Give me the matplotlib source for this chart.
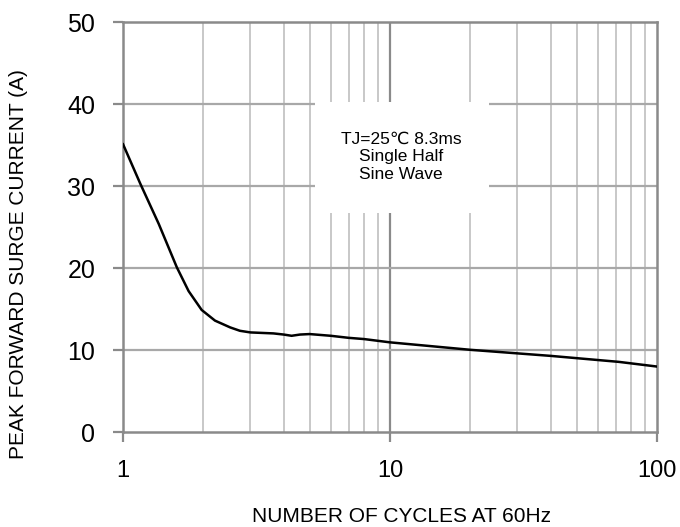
import numpy as np
import matplotlib
matplotlib.use("Agg")
import matplotlib.pyplot as plt
from matplotlib.patches import Rectangle

plt.rcParams['font.family'] = ['Liberation Sans', 'DejaVu Sans']

# curve
cycles = [1.0, 1.16, 1.36, 1.59, 1.76, 1.97, 2.21, 2.52, 2.74, 3.0, 3.66, 4.0,
          4.28, 4.6, 5.0, 6.0, 7.0, 8.0, 10.0, 14.1, 20.0, 40.0, 72.0, 100.0]
current = [35.1, 30.3, 25.4, 20.1, 17.2, 14.9, 13.6, 12.77, 12.36, 12.16, 12.04, 11.9,
           11.75, 11.9, 11.96, 11.75, 11.5, 11.35, 10.95, 10.5, 10.04, 9.3, 8.57, 8.0]

y_ticks = [0, 10, 20, 30, 40, 50]
x_ticks = [1, 10, 100]
x_labels = ['1', '10', '100']
note = "TJ=25\u2103 8.3ms\nSingle Half\nSine Wave"

fig = plt.figure(figsize=(6.8, 5.27), dpi=100)
ax = fig.add_axes([0.181, 0.180, 0.785, 0.778])

ax.set_xscale('log')
ax.set_xlim(1, 100)
ax.set_ylim(0, 50)

# grid
minor = [m * d for d in (1, 10) for m in range(2, 10)]
for xv in minor:
    ax.axvline(xv, color='#c4c4c4', lw=1.3, zorder=1)
ax.axvline(10, color='#8a8a8a', lw=1.6, zorder=1)
for yv in y_ticks[1:-1]:
    ax.axhline(yv, color='#a8a8a8', lw=1.6, zorder=1)

# annotation box hides the grid behind it
ax.add_patch(Rectangle((5.24, 26.7), 23.5 - 5.24, 40.2 - 26.7, facecolor='white',
                       edgecolor='none', zorder=2))
ax.text(11.0, 33.6, note, ha='center', va='center', fontsize=12.5,
        linespacing=1.2, zorder=3)

ax.plot(cycles, current, color='black', lw=1.8, zorder=4,
        solid_joinstyle='round')

ax.set_yticks(y_ticks)
ax.set_xticks(x_ticks)
ax.set_xticklabels(x_labels)
ax.xaxis.set_minor_locator(matplotlib.ticker.NullLocator())
ax.tick_params(axis='both', color='#8a8a8a', width=1.6, length=7,
               direction='out')
ax.tick_params(axis='y', labelsize=18, pad=13)
ax.tick_params(axis='x', labelsize=17, pad=13)
for s in ax.spines.values():
    s.set_color('#8a8a8a')
    s.set_linewidth(1.8)

ax.set_ylabel('PEAK FORWARD SURGE CURRENT (A)', fontsize=15)
ax.set_xlabel('NUMBER OF CYCLES AT 60Hz', fontsize=15)
ax.yaxis.set_label_coords(-0.178, 0.41)
ax.xaxis.set_label_coords(0.522, -0.182)

fig.savefig('out.png', dpi=100)
